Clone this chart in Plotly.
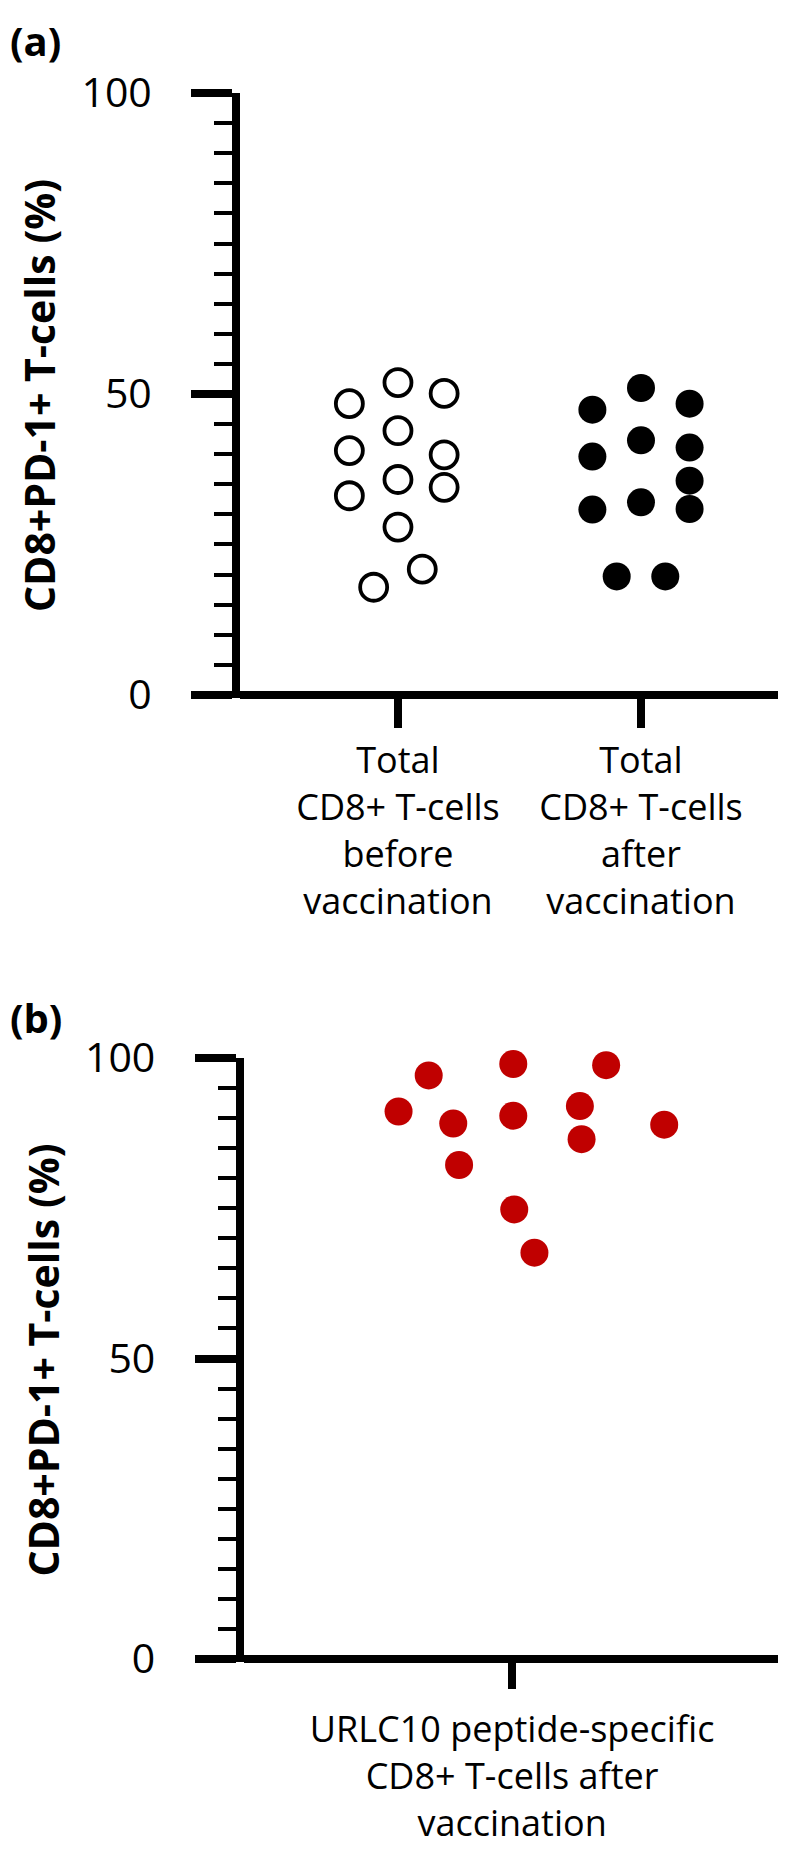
import plotly.graph_objects as go

# ---- data ----
categories_a = ["Total<br>CD8+ T-cells<br>before<br>vaccination",
                "Total<br>CD8+ T-cells<br>after<br>vaccination"]
before_values = [48.4, 51.9, 50.1, 43.9, 40.6, 39.9, 35.8, 34.5, 33.1, 27.9, 20.9, 17.9]
before_jitter = [-0.20, 0.0, 0.19, 0.0, -0.20, 0.19, 0.0, 0.19, -0.20, 0.0, 0.10, -0.10]
after_values = [47.4, 51.0, 48.4, 42.3, 39.6, 41.1, 35.6, 30.8, 32.0, 30.9, 19.7, 19.7]
after_jitter = [-0.20, 0.0, 0.20, 0.0, -0.20, 0.20, 0.20, -0.20, 0.0, 0.20, -0.10, 0.10]

categories_b = ["URLC10 peptide-specific<br>CD8+ T-cells after<br>vaccination"]
urlc10_values = [91.1, 97.1, 89.1, 82.2, 99.0, 90.4, 74.8, 67.6, 92.0, 86.5, 98.8, 88.9]
urlc10_jitter = [-0.467, -0.343, -0.242, -0.218, 0.005, 0.005, 0.009, 0.092, 0.279, 0.286, 0.387, 0.626]

y_ticks = [0, 50, 100]
y_title = "CD8+PD-1+ T-cells (%)"

W, H = 786, 1849
FONT = "Open Sans"

def px_x(p):
    return p / W

def px_y(p):
    return 1 - p / H

fig = go.Figure()

fig.add_trace(go.Scatter(
    x=[0 + j for j in before_jitter], y=before_values, mode="markers",
    marker=dict(symbol="circle-open", size=27, color="black", line=dict(width=3.8, color="black")),
    xaxis="x", yaxis="y", cliponaxis=False, showlegend=False))
fig.add_trace(go.Scatter(
    x=[1 + j for j in after_jitter], y=after_values, mode="markers",
    marker=dict(symbol="circle", size=28, color="black", line=dict(width=0)),
    xaxis="x", yaxis="y", cliponaxis=False, showlegend=False))
fig.add_trace(go.Scatter(
    x=[0 + j for j in urlc10_jitter], y=urlc10_values, mode="markers",
    marker=dict(symbol="circle", size=28, color="#C00000", line=dict(width=0)),
    xaxis="x2", yaxis="y2", cliponaxis=False, showlegend=False))

common_y = dict(
    range=[-0.5, 100], tickvals=y_ticks, ticktext=[str(v) for v in y_ticks],
    ticks="outside", ticklen=41, tickwidth=8, tickcolor="black",
    showline=True, linewidth=8, linecolor="black",
    zeroline=True, zerolinewidth=8, zerolinecolor="black",
    showgrid=False, automargin=False,
    minor=dict(dtick=5, tick0=0, ticks="outside", ticklen=18, tickwidth=4, tickcolor="black", showgrid=False),
    tickfont=dict(family=FONT, size=41, color="black"),
    ticklabelstandoff=31,
    title=dict(text=y_title, font=dict(family=FONT, size=41, color="black", weight="bold"), standoff=16),
)
common_x = dict(
    ticks="outside", tickwidth=8, tickcolor="black",
    showline=False, zeroline=False, showgrid=False, automargin=False,
    tickfont=dict(family=FONT, size=36, color="black"),
)

fig.update_layout(
    width=W, height=H, margin=dict(l=0, r=0, t=0, b=0), autosize=False,
    paper_bgcolor="white", plot_bgcolor="white",
    xaxis=dict(domain=[px_x(232), px_x(772)], range=[-0.65, 1.572],
               tickvals=[0, 1], ticktext=categories_a, anchor="y",
               ticklen=29, ticklabelstandoff=2, **common_x),
    yaxis=dict(domain=[px_y(690), px_y(85)], anchor="x", **common_y),
    xaxis2=dict(domain=[px_x(235.5), px_x(786)], range=[-1.105, 1.160],
                tickvals=[0], ticktext=categories_b, anchor="y2",
                ticklen=26, ticklabelstandoff=10, **common_x),
    yaxis2=dict(domain=[px_y(1654), px_y(1050)], anchor="x2", **common_y),
    annotations=[
        dict(text="(a)", x=0, y=px_y(32), xref="paper", yref="paper", xanchor="left", yanchor="middle",
             showarrow=False, font=dict(family=FONT, size=40, color="black", weight="bold")),
        dict(text="(b)", x=0, y=px_y(1010), xref="paper", yref="paper", xanchor="left", yanchor="middle",
             showarrow=False, font=dict(family=FONT, size=40, color="black", weight="bold")),
    ],
)

fig.write_html("out.html")
